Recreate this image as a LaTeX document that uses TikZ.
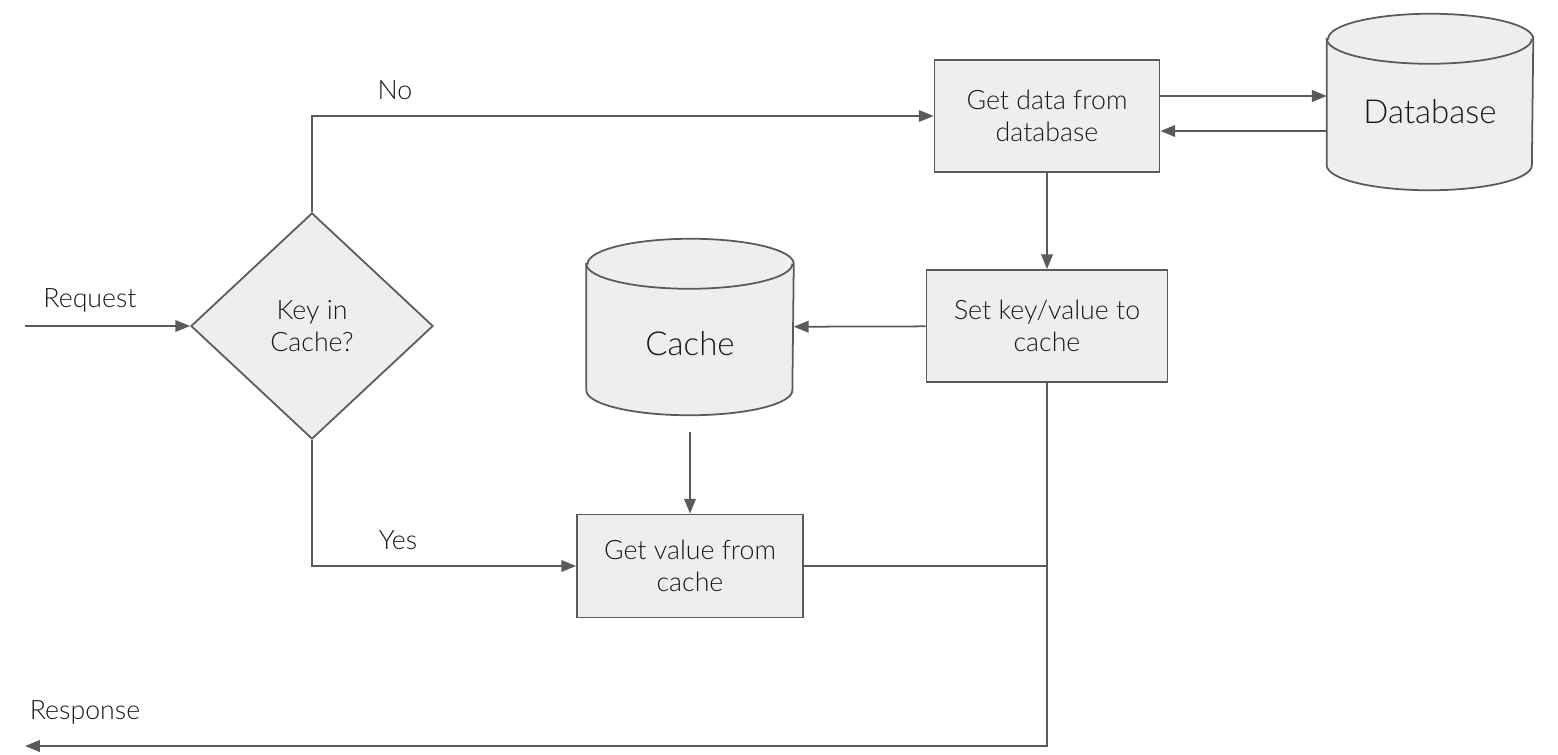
\documentclass[tikz,border=0pt]{standalone}
\usepackage{fontspec}
\setmainfont{Lato Light}
\usetikzlibrary{shapes.geometric,arrows.meta}

\definecolor{linegray}{HTML}{5A5A5A}
\definecolor{boxfill}{HTML}{EEEEEE}

\tikzset{
	every node/.style={font=\fontsize{7.6}{9.2}\selectfont, text=black!90},
	stepbox/.style={draw=linegray, fill=boxfill, line width=0.5pt, align=center, inner sep=0pt},
	decision/.style={diamond, draw=linegray, fill=boxfill, line width=0.5pt, align=center, inner sep=0pt, minimum width=2.42cm, minimum height=2.26cm},
	store/.style={inner sep=0pt, minimum height=1.75cm},
	storetext/.style={font=\fontsize{9.4}{11}\selectfont},
	flow/.style={draw=linegray, line width=0.5pt, -{Triangle[length=4.2pt,width=3.3pt]}}
}

% drum outline round a node: #1 node, #2 half width
\newcommand{\drawdrum}[2]{%
	\filldraw[fill=boxfill, draw=linegray, line width=0.5pt]
		([yshift=-0.25cm]#1.north west) -- ([yshift=0.25cm]#1.south west)
		arc[start angle=180, end angle=360, x radius=#2, y radius=0.25cm]
		-- ([yshift=-0.25cm]#1.north east)
		arc[start angle=0, end angle=180, x radius=#2, y radius=0.25cm] -- cycle;
	\draw[linegray, line width=0.5pt] ([yshift=-0.25cm]#1.north west)
		arc[start angle=180, end angle=360, x radius=#2, y radius=0.25cm];
}

\begin{document}
\begin{tikzpicture}[x=0.01cm, y=-0.01cm]
	\useasboundingbox (0,0) rectangle (1558,754);
	\coordinate (0) at (25,326);
	\node (1) at (90,300) {Request};
	\node (3) [decision] at (312,326) {Key in\\Cache?};
	\node (4) [stepbox, minimum width=2.25cm, minimum height=1.12cm] at (1047,116) {Get data from\\database};
	\node (5) [store, minimum width=2.05cm] at (1430,102) {};
	\drawdrum{5}{1.025cm}
	\node (5t) [storetext] at (1430,112) {Database};
	\node (6) [stepbox, minimum width=2.41cm, minimum height=1.12cm] at (1047,326) {Set key/value to\\cache};
	\node (7) [store, minimum width=2.06cm] at (690,327) {};
	\drawdrum{7}{1.03cm}
	\node (7t) [storetext] at (690,344) {Cache};
	\node (8) [stepbox, minimum width=2.26cm, minimum height=1.03cm] at (690,566) {Get value from\\cache};
	\node (9) at (395,90) {No};
	\node (10) at (398,540) {Yes};
	\node (11) at (85,712) {Response};
	\coordinate (12) at (25,746);
	\draw[flow] (0) -- (3);
	\draw[flow] (3.north) |- (4.west);
	\draw[flow] ([yshift=0.2cm]4.east) -- ([yshift=0.2cm]4.east -| 5.west);
	\draw[flow] ([yshift=-0.15cm]4.east -| 5.west) -- ([yshift=-0.15cm]4.east);
	\draw[flow] (4) -- (6);
	\draw[flow] (6) -- (7);
	\draw[flow, shorten <=0.17cm] (7) -- (8);
	\draw[flow] (3.south) |- (8.west);
	\draw[draw=linegray, line width=0.5pt] (8.east) -- (8.east -| 6.south);
	\draw[flow] (6.south) |- (12);
\end{tikzpicture}
\end{document}
